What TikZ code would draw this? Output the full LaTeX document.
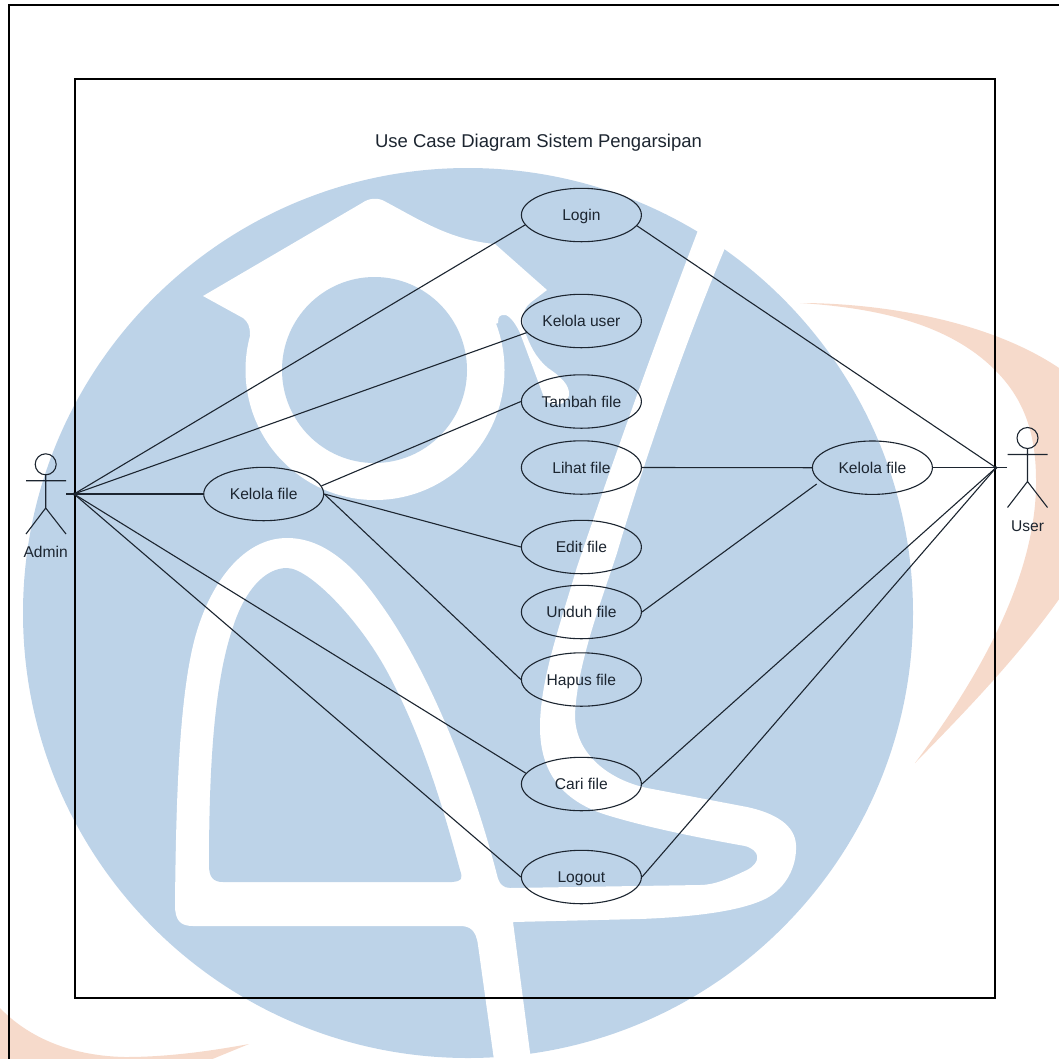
\documentclass[tikz,border=0pt]{standalone}
\usepackage{fontspec}
\setmainfont{Liberation Sans}
\usetikzlibrary{shapes.geometric}
\definecolor{wmblue}{HTML}{BDD3E8}
\definecolor{wmpeach}{HTML}{F6DACB}
\definecolor{ink}{HTML}{1C2530}
\tikzset{
  x=1pt,y=-1pt,
  usecase/.style={draw=ink,ellipse,line width=1.1pt,minimum width=120pt,minimum height=53.4pt,inner sep=0pt,text=ink,text height=11pt,text depth=0pt,font=\fontsize{15.6}{18}\selectfont},
  assoc/.style={draw=ink,line width=1.1pt},
  actorlabel/.style={text=ink,text height=11pt,text depth=0pt,font=\fontsize{15.6}{18}\selectfont,inner sep=0pt},
  actorline/.style={draw=ink,line width=1.1pt},
  frameline/.style={draw=black,line width=1.1pt},
}
\begin{document}
\begin{tikzpicture}
\useasboundingbox (0,0) rectangle (1059,1058);
\clip (0,0) rectangle (1059,1058);
% watermark
\fill[wmpeach] (800,303) .. controls (880,303) and (990,320) .. (1062,370) -- (1062,595)
  .. controls (1020,655) and (965,712) .. (915,763)
  .. controls (985,670) and (1037,570) .. (1036,480)
  .. controls (1036,430) and (1022,397) .. (995,370)
  .. controls (950,325) and (880,308) .. (800,303) -- cycle;
\fill[wmpeach] (-2,1006) .. controls (30,1040) and (75,1056) .. (125,1057)
  .. controls (165,1057) and (205,1052) .. (249,1044) -- (210,1060) -- (-2,1060) -- cycle;
\fill[wmblue] (468,613) circle (445);
% white cap, ring and tassel
\fill[white] (203,296) -- (362,203) .. controls (369,198) and (378,197) .. (386,202)
  .. controls (420,220) and (450,240) .. (495,244) -- (547,290) -- (530,303)
  .. controls (523,309) and (520,320) .. (525,332)
  .. controls (530,345) and (535,357) .. (548,368)
  .. controls (560,376) and (570,385) .. (569,395)
  .. controls (568,405) and (553,408) .. (545,400)
  -- (520,333) .. controls (514,320) and (507,313) .. (502,315)
  .. controls (498,316) and (498,320) .. (498,323)
  -- (375,370) -- (250,335) .. controls (250,326) and (248,322) .. (243,318) -- cycle;
\fill[white] (375,370) ellipse [x radius=129.5,y radius=130];
\fill[wmblue] (374.5,370) ellipse [x radius=92.5,y radius=93];
% white S stripe, arch and stem
\fill[white] (704,215) -- (697,233)
  .. controls (660,330) and (620,440) .. (577,567)
  .. controls (560,625) and (540,680) .. (540,727)
  .. controls (540,775) and (565,803) .. (610,816)
  .. controls (650,828) and (700,838) .. (745,846)
  .. controls (760,850) and (762,862) .. (747,870)
  .. controls (730,878) and (715,885) .. (700,885)
  -- (510,888) .. controls (503,888) and (499,884) .. (497,875)
  .. controls (470,770) and (425,665) .. (380,603)
  .. controls (350,560) and (320,538) .. (287,538)
  .. controls (240,538) and (205,590) .. (192,650)
  .. controls (180,705) and (176,790) .. (175,905)
  .. controls (175,920) and (180,926) .. (193,926) -- (460,926) .. controls (470,926) and (476,930) .. (478,945)
  -- (494,1060) -- (531,1060) -- (513,922) -- (640,919)
  .. controls (690,917) and (740,912) .. (767,898)
  .. controls (785,888) and (797,868) .. (796,845)
  .. controls (795,825) and (775,813) .. (747,807)
  -- (647,788) .. controls (610,780) and (575,755) .. (575,715)
  .. controls (577,665) and (600,605) .. (617,553)
  .. controls (640,475) and (680,355) .. (725,248)
  -- (733,225) -- cycle;
\fill[wmblue] (209,865) .. controls (209,760) and (215,680) .. (233,627)
  .. controls (245,590) and (265,568) .. (287,568)
  .. controls (310,568) and (365,625) .. (393,683)
  .. controls (425,745) and (445,815) .. (460,870)
  .. controls (463,879) and (462,881) .. (452,882) -- (223,882) .. controls (213,882) and (209,877) .. (209,865) -- cycle;
% frames
\draw[frameline] (9,1060) -- (9,5) -- (1060,5);
\draw[frameline] (75,79) rectangle (995,998);
\node[text=ink,text height=13.3pt,text depth=0pt,font=\fontsize{18.5}{22}\selectfont,inner sep=0pt] (title) at (538.5,141) {Use Case Diagram Sistem Pengarsipan};
% actors
\coordinate (adminport) at (74,494);
\coordinate (userport) at (996,467.7);
\coordinate (kelolaRin) at (816.7,484);
\node[actorlabel] (adminname) at (45.7,552.3) {Admin};
\node[actorlabel] (username) at (1027.5,525.5) {User};
\draw[actorline] (45.7,464.3) circle (10.5);
\draw[actorline] (45.7,474.8) -- (45.7,508) (26,480.7) -- (66,480.7) (26,534) -- (45.7,508) -- (66,534);
\draw[actorline] (1027.5,438) circle (10.5);
\draw[actorline] (1027.5,448.5) -- (1027.5,481.5) (1007.5,454.5) -- (1047.5,454.5) (1007.5,507.5) -- (1027.5,481.5) -- (1047.5,507.5);
\draw[actorline] (66,494) -- (adminport);
\draw[actorline] (1007,467.7) -- (userport);
\fill[ink] (adminport) circle (1.6);
\fill[ink] (userport) circle (1.6);
% use cases
\node[usecase] (login) at (581.4,215) {Login};
\node[usecase] (kuser) at (581.4,321) {Kelola user};
\node[usecase] (tambah) at (581.4,401.5) {Tambah file};
\node[usecase] (lihat) at (581.4,467.5) {Lihat file};
\node[usecase] (edit) at (581.4,547) {Edit file};
\node[usecase] (unduh) at (581.4,612) {Unduh file};
\node[usecase] (hapus) at (581.4,679.5) {Hapus file};
\node[usecase] (cari) at (581.4,784) {Cari file};
\node[usecase] (logout) at (581.4,877) {Logout};
\node[usecase] (kelolaL) at (263.7,494) {Kelola file};
\node[usecase] (kelolaR) at (872.4,467.7) {Kelola file};
% connectors
\draw[assoc] (adminport) -- (login.190);
\draw[assoc] (adminport) -- (kuser.192);
\draw[assoc] (adminport) -- (kelolaL.west);
\draw[assoc] (adminport) -- (cari.169);
\draw[assoc] (adminport) -- (logout.west);
\draw[assoc] (kelolaL.8) -- (tambah.west);
\draw[assoc] (kelolaL.east) -- (edit.west);
\draw[assoc] (kelolaL.east) -- (hapus.west);
\draw[assoc] (login.-11) -- (userport);
\draw[assoc] (kelolaR.east) -- (userport);
\draw[assoc] (lihat.east) -- (kelolaR.west);
\draw[assoc] (unduh.east) -- (kelolaRin);
\draw[assoc] (cari.east) -- (userport);
\draw[assoc] (logout.east) -- (userport);
\end{tikzpicture}
\end{document}
